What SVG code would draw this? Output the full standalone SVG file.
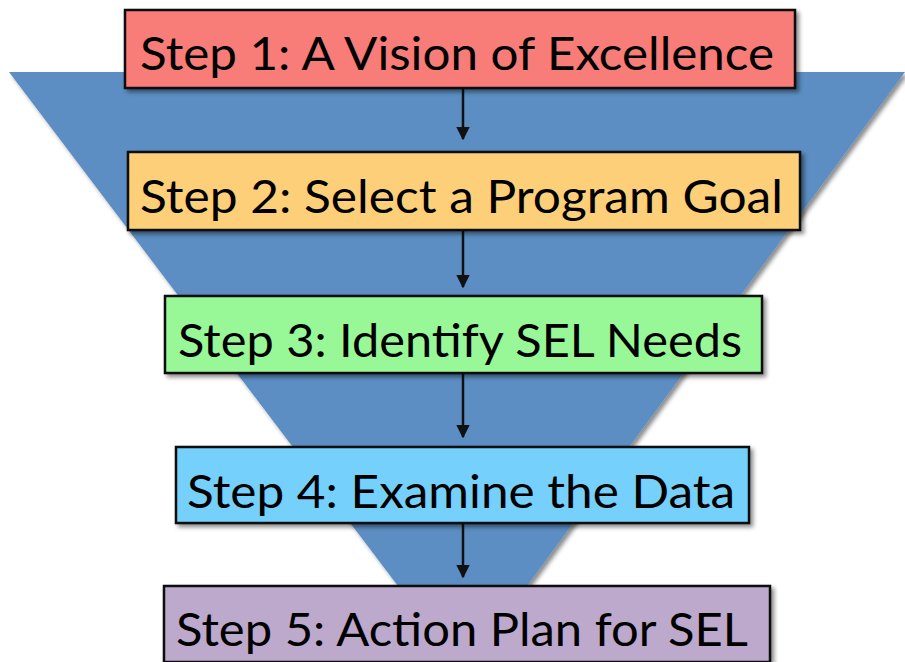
<svg xmlns="http://www.w3.org/2000/svg" width="905" height="662" viewBox="0 0 905 662">
<style>
.box{stroke:#111;stroke-width:2.5}
.lbl{font-family:Lato,"Open Sans","Liberation Sans",sans-serif;font-size:46px;fill:#000}
.conn{stroke:#111;stroke-width:2.5;fill:none}
</style>
<defs>
<filter id="sh" x="-5%" y="-10%" width="115%" height="130%">
<feDropShadow dx="3" dy="3" stdDeviation="2" flood-color="#000" flood-opacity="0.45"/>
</filter>
<marker id="ah" viewBox="0 0 10 10" refX="9" refY="5" markerWidth="5.5" markerHeight="5.5" markerUnits="strokeWidth" orient="auto">
<path d="M0,0 L10,5 L0,10 Z" fill="#111"/>
</marker>
</defs>
<rect width="905" height="662" fill="#fff"/>
<g id="funnel">
<polygon points="9,72 905,72 527,586 398,586" fill="#5C8EC3" filter="url(#sh)"/>
</g>
<g id="connectors">
<line class="conn" x1="463" y1="89" x2="463" y2="139" marker-end="url(#ah)"/>
<line class="conn" x1="463" y1="231" x2="463" y2="287" marker-end="url(#ah)"/>
<line class="conn" x1="463" y1="374" x2="463" y2="437" marker-end="url(#ah)"/>
<line class="conn" x1="463" y1="524" x2="463" y2="577" marker-end="url(#ah)"/>
</g>
<g id="step1">
<rect class="box" x="125" y="10" width="670" height="78" fill="#F87C78" filter="url(#sh)"/>
<text class="lbl" x="140" y="70" textLength="634" lengthAdjust="spacingAndGlyphs">Step 1: A Vision of Excellence</text>
</g>
<g id="step2">
<rect class="box" x="128" y="152" width="672" height="78" fill="#FDCF78" filter="url(#sh)"/>
<text class="lbl" x="140" y="213" textLength="643" lengthAdjust="spacingAndGlyphs">Step 2: Select a Program Goal</text>
</g>
<g id="step3">
<rect class="box" x="165" y="296" width="597" height="77" fill="#98F898" filter="url(#sh)"/>
<text class="lbl" x="178" y="357" textLength="564" lengthAdjust="spacingAndGlyphs">Step 3: Identify SEL Needs</text>
</g>
<g id="step4">
<rect class="box" x="176" y="447" width="573" height="76" fill="#74D0FB" filter="url(#sh)"/>
<text class="lbl" x="187" y="508" textLength="548" lengthAdjust="spacingAndGlyphs">Step 4: Examine the Data</text>
</g>
<g id="step5">
<rect class="box" x="164" y="586" width="606" height="76" fill="#BCA9CC" filter="url(#sh)"/>
<text class="lbl" x="176" y="646" textLength="572" lengthAdjust="spacingAndGlyphs">Step 5: Action Plan for SEL</text>
</g>
</svg>
